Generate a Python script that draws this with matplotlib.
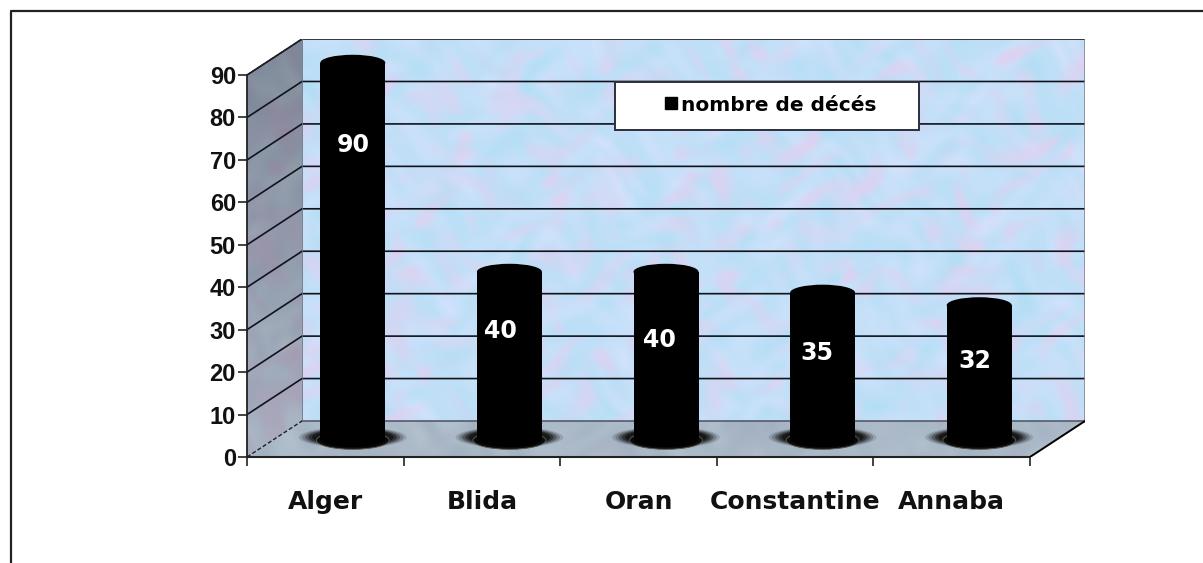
import numpy as np
import matplotlib
matplotlib.use('Agg')
import matplotlib.pyplot as plt
from matplotlib.lines import Line2D
from matplotlib.patches import Ellipse, Polygon, Rectangle

plt.rcParams['font.family'] = ['DejaVu Sans']

# Data
villes = ['Alger', 'Blida', 'Oran', 'Constantine', 'Annaba']
deces = [90, 40, 40, 35, 32]
label_heights = [73.5, 29.7, 27.6, 24.5, 22.6]
label_shifts = [0.0, -0.055, -0.04, -0.035, -0.03]
y_ticks = list(range(0, 100, 10))
legend_label = 'nombre de décés'

# Pixel layout of the reference
W, H = 1203, 563
x0_px, y0_px = 247, 457
px_x, px_y = 156.6, 4.244     # pixels for one category / one death
depth_x, depth_y = 55 / px_x, 36 / px_y
x_max, y_max = 5 + depth_x, 90 + depth_y

fig = plt.figure(figsize=(W / 100, H / 100), dpi=100, facecolor='white')
ax = fig.add_axes([x0_px / W, 1 - y0_px / H, x_max * px_x / W, y_max * px_y / H])


def waves(u, v, seed):
    # warped waves, so the texture looks like blotches and not like stripes
    wu = u + 18 * np.sin(0.021 * v + seed) + 11 * np.sin(0.047 * v - 0.031 * u + seed)
    wv = v + 18 * np.cos(0.027 * u - seed) + 11 * np.sin(0.053 * u + 0.037 * v)
    out = np.zeros_like(u)
    for i, f in enumerate([0.047, 0.073, 0.109, 0.151, 0.061, 0.127, 0.089, 0.193, 0.231, 0.167, 0.211, 0.139]):
        ang = 1.37 * i + seed
        out += np.sin(f * (wu * np.cos(ang) + wv * np.sin(ang)) + 1.9 * i + seed)
    return (out - out.min()) / (out.max() - out.min())


def mottled(x_px, y_px, c1, c2, c3, seed):
    u, v = np.meshgrid(np.arange(x_px, dtype=float), np.arange(y_px, dtype=float))
    a = waves(u, v, seed)[..., None]
    b = waves(u, v, seed + 2.4)[..., None]
    img = np.array(c1) * (1 - a) + np.array(c2) * a
    img = img + np.clip(b - 0.45, 0, 0.55) * 1.8 * (np.array(c3) - img)
    return np.clip(img / 255, 0, 1)


# Back wall
wall = mottled(782, 380, (176, 222, 244), (212, 226, 252), (224, 208, 240), 1.0)
ax.imshow(wall, extent=(depth_x, x_max, depth_y, y_max), aspect='auto', zorder=1, interpolation='bilinear')

# Left wall, clipped to its parallelogram, lighter towards the floor
side = mottled(55, 416, (118, 130, 148), (136, 146, 160), (134, 126, 148), 2.0)
side = side + np.linspace(0, 0.16, 416)[:, None, None]
im = ax.imshow(np.clip(side, 0, 1), extent=(0, depth_x, 0, y_max), aspect='auto', zorder=1, interpolation='bilinear')
side_poly = Polygon([(0, 0), (depth_x, depth_y), (depth_x, y_max), (0, 90)], closed=True,
                    transform=ax.transData, fc='none', ec='none')
ax.add_patch(side_poly)
im.set_clip_path(side_poly)

# Floor
floor = mottled(837, 36, (160, 176, 192), (182, 196, 208), (170, 180, 198), 3.0)
im2 = ax.imshow(floor, extent=(0, x_max, 0, depth_y), aspect='auto', zorder=1, interpolation='bilinear')
floor_poly = Polygon([(0, 0), (5, 0), (x_max, depth_y), (depth_x, depth_y)], closed=True,
                     transform=ax.transData, fc='none', ec='none')
ax.add_patch(floor_poly)
im2.set_clip_path(floor_poly)

# Grid lines on both walls
for t in y_ticks[1:]:
    ax.plot([0, depth_x, x_max], [t, t + depth_y, t + depth_y], color='#10131c', lw=1.2, zorder=2,
            solid_joinstyle='miter')
ax.plot([0, depth_x], [90, y_max], color='#222222', lw=1.0, ls=(0, (3, 1)), zorder=3)
ax.plot([depth_x, x_max], [y_max, y_max], color='#3c3e4a', lw=1.2, zorder=3)
ax.plot([x_max, x_max], [y_max, depth_y], color='#7d8088', lw=1.8, zorder=3)
ax.plot([depth_x, x_max], [depth_y, depth_y], color='#555a66', lw=1.2, zorder=3)
ax.plot([depth_x, depth_x], [depth_y, y_max], color='#6a7080', lw=0.6, zorder=3)
ax.plot([0, depth_x], [0, depth_y], color='#222222', lw=1.0, ls=(0, (3, 1.5)), zorder=3)
ax.plot([5, x_max], [0, depth_y], color='black', lw=1.4, zorder=3)

# Cylinders with a soft shadow on the floor
bar_w = 65 / px_x
base = 18 / px_y
top_h = 16 / px_y
for i, v in enumerate(deces):
    xc = i + 0.5 + depth_x / 2
    for k, a in zip([1.66, 1.56, 1.46, 1.36, 1.26], [0.14, 0.22, 0.35, 0.5, 0.75]):
        ax.add_patch(Ellipse((xc, base + 0.4), bar_w * k, (21 * (k / 1.66)) / px_y, fc='#101010', ec='none', alpha=a,
                             zorder=4))
    ax.add_patch(Ellipse((xc, base - 0.3), bar_w * 1.12, 18 / px_y, fc='#0a0a0a', ec='#55554a', lw=0.7, zorder=4))
    top = base + v * 0.985
    ax.add_patch(Rectangle((xc - bar_w / 2, base), bar_w, top - base, fc='black', ec='none', zorder=5))
    ax.add_patch(Ellipse((xc, base), bar_w, top_h, fc='black', ec='none', zorder=5))
    ax.add_patch(Ellipse((xc, top), bar_w, top_h, fc='black', ec='none', zorder=5))
    ax.text(xc + label_shifts[i], label_heights[i], str(v), color='white', fontsize=17, fontweight='bold',
            ha='center', va='center', zorder=6)

# Legend box
bx = (615 - x0_px) / px_x
by = (y0_px - 130) / px_y
ax.add_patch(Rectangle((bx, by), 304 / px_x, 48 / px_y, fc='white', ec='#2c2f40', lw=1.4, zorder=7))
handle = Line2D([], [], ls='none', marker='s', color='black', markersize=8.5)
leg = ax.legend([handle], [legend_label], frameon=False, loc='center',
                bbox_to_anchor=((bx + 155 / px_x) / x_max, (by + 25 / px_y) / y_max),
                handlelength=0.7, handletextpad=0.15, borderpad=0, borderaxespad=0,
                prop={'size': 14.5, 'weight': 'bold'})
leg.set_zorder(8)

# Axes and ticks
ax.set_xlim(0, x_max)
ax.set_ylim(0, y_max)
for s in ['top', 'right']:
    ax.spines[s].set_visible(False)
ax.spines['left'].set_bounds(0, 90)
ax.spines['bottom'].set_bounds(0, 5)
ax.spines['left'].set_linewidth(1.3)
ax.spines['bottom'].set_linewidth(1.5)
ax.spines['left'].set_color('#222222')
ax.spines['bottom'].set_color('#222222')
ax.set_xticks(range(6))
ax.set_xticklabels([])
ax.set_xticks(np.arange(5) + 0.5, villes, minor=True)
ax.set_yticks(y_ticks)
ax.tick_params(axis='x', which='major', length=6.5, width=1.2, color='#222222')
ax.tick_params(axis='x', which='minor', length=0, pad=24, labelsize=18)
ax.tick_params(axis='y', length=6.5, width=1.2, color='#222222', pad=1.5, labelsize=17)
for lab in ax.get_xticklabels(minor=True) + ax.get_yticklabels():
    lab.set_fontweight('bold')
    lab.set_color('#111111')
for lab in ax.get_yticklabels():
    lab.set_family('Liberation Sans')

# Outer frame, open on the right and at the bottom
fig.add_artist(Line2D([10.5 / W, 10.5 / W, 1], [0, 1 - 10.5 / H, 1 - 10.5 / H], color='#222222', lw=1.6,
                      transform=fig.transFigure))

fig.savefig('out.png', dpi=100)
